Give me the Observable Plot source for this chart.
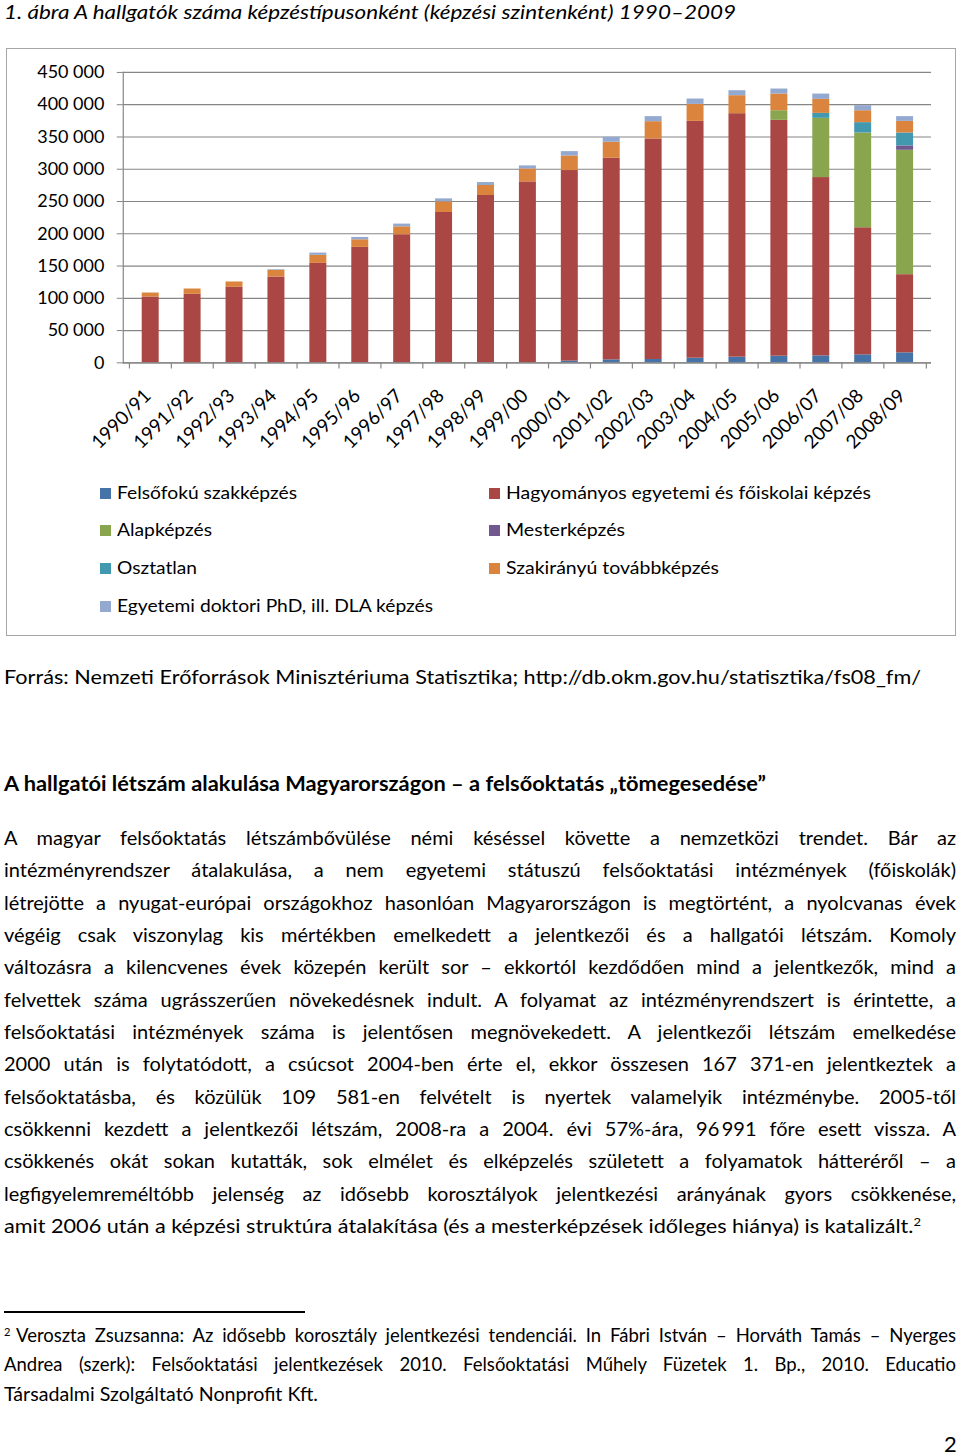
<!DOCTYPE html>
<html lang="hu">
<head>
<meta charset="utf-8">
<script src="https://cdn.jsdelivr.net/npm/d3@7"></script>
<script src="https://cdn.jsdelivr.net/npm/@observablehq/plot@0.6"></script>
<style>
  html, body { margin: 0; padding: 0; background: #fff; }
  #page { position: relative; width: 960px; height: 1456px; overflow: hidden; font-family: Lato, "Open Sans", sans-serif; color: #000; }
  #chartbox { position: absolute; left: 6px; top: 48px; width: 948px; height: 586px; border: 1.5px solid #a6a6a6; }
  #chartbox svg { position: absolute; left: 0; top: 0; }
  .line { position: absolute; white-space: pre; transform-origin: 0 50%; }
  .sw { position: absolute; width: 11px; height: 11px; }
  sup { font-size: 60%; line-height: 0; vertical-align: 0.55em; }
</style>
</head>
<body>
<div id="page">
  <div id="chartbox"></div>
</div>
<script>
// ---- chart data ----
const years = ["1990/91","1991/92","1992/93","1993/94","1994/95","1995/96","1996/97","1997/98","1998/99","1999/00","2000/01","2001/02","2002/03","2003/04","2004/05","2005/06","2006/07","2007/08","2008/09"];
const seriesNames = ["Felsőfokú szakképzés","Hagyományos egyetemi és főiskolai képzés","Alapképzés","Mesterképzés","Osztatlan","Szakirányú továbbképzés","Egyetemi doktori PhD, ill. DLA képzés"];
const seriesColors = ["#4572A7","#AA4643","#89A54E","#71588F","#4198AF","#DB843D","#93A9CF"];
const felsofoku   = [0,0,0,0,0,0,0,0,0,0,2600,4600,5200,7200,8800,10300,10800,12400,15500];
const hagyomanyos = [102000,106200,117000,133000,154100,178900,198500,233000,259300,280400,295400,312400,341700,367000,377300,365500,276300,196900,121100];
const alapkepzes  = [0,0,0,0,0,0,0,0,0,0,0,0,0,0,0,14900,91800,146900,192800];
const mesterkepzes= [0,0,0,0,0,0,0,0,0,0,0,0,0,0,0,0,0,0,6700];
const osztatlan   = [0,0,0,0,0,0,0,0,0,0,0,0,0,0,0,0,7700,16000,20100];
const szakiranyu  = [6200,8200,8300,10300,12400,11800,12300,16500,15500,20100,22600,24800,26800,26300,27900,25800,21700,18500,18000];
const doktori     = [0,0,0,1000,3600,3600,4200,4600,4600,4700,6700,7700,7800,8300,7700,7800,8200,7800,7300];
const seriesValues = [felsofoku, hagyomanyos, alapkepzes, mesterkepzes, osztatlan, szakiranyu, doktori];
const yTicks = [0,50000,100000,150000,200000,250000,300000,350000,400000,450000];

// ---- texts ----
const titleText = "1. ábra A hallgatók száma képzéstípusonként (képzési szintenként) 1990–2009";
const sourceText = "Forrás: Nemzeti Erőforrások Minisztériuma Statisztika; http://db.okm.gov.hu/statisztika/fs08_fm/";
const headingText = "A hallgatói létszám alakulása Magyarországon – a felsőoktatás „tömegesedése”";
const bodyLines = [
  "A magyar felsőoktatás létszámbővülése némi késéssel követte a nemzetközi trendet. Bár az",
  "intézményrendszer átalakulása, a nem egyetemi státuszú felsőoktatási intézmények (főiskolák)",
  "létrejötte a nyugat-európai országokhoz hasonlóan Magyarországon is megtörtént, a nyolcvanas évek",
  "végéig csak viszonylag kis mértékben emelkedett a jelentkezői és a hallgatói létszám. Komoly",
  "változásra a kilencvenes évek közepén került sor – ekkortól kezdődően mind a jelentkezők, mind a",
  "felvettek száma ugrásszerűen növekedésnek indult. A folyamat az intézményrendszert is érintette, a",
  "felsőoktatási intézmények száma is jelentősen megnövekedett. A jelentkezői létszám emelkedése",
  "2000 után is folytatódott, a csúcsot 2004-ben érte el, ekkor összesen 167 371-en jelentkeztek a",
  "felsőoktatásba, és közülük 109 581-en felvételt is nyertek valamelyik intézménybe. 2005-től",
  "csökkenni kezdett a jelentkezői létszám, 2008-ra a 2004. évi 57%-ára, 96\u2009991 főre esett vissza. A",
  "csökkenés okát sokan kutatták, sok elmélet és elképzelés született a folyamatok hátteréről – a",
  "legfigyelemreméltóbb jelenség az idősebb korosztályok jelentkezési arányának gyors csökkenése,",
  "amit 2006 után a képzési struktúra átalakítása (és a mesterképzések időleges hiánya) is katalizált."
];
const footnoteLines = [
  "Veroszta Zsuzsanna: Az idősebb korosztály jelentkezési tendenciái. In Fábri István – Horváth Tamás – Nyerges",
  "Andrea (szerk): Felsőoktatási jelentkezések 2010. Felsőoktatási Műhely Füzetek 1. Bp., 2010. Educatio",
  "Társadalmi Szolgáltató Nonprofit Kft."
];

// ---- chart ----
const rows = years.flatMap((yr, i) => seriesValues.map((vals, j) => ({year: yr, series: seriesNames[j], value: vals[i]})));
const fmt = d => d3.format(",")(d).replace(/,/g, " ");
const W = 950, ML = 116, MR = 24;
const step = (W - ML - MR) / years.length;
const gray = "#868686";

const chart = Plot.plot({
  width: W, height: 420,
  marginLeft: ML, marginRight: MR, marginTop: 23, marginBottom: 106,
  style: {fontFamily: "Lato, sans-serif", fontSize: "18px", color: "#000", background: "transparent", overflow: "visible"},
  x: {domain: years, paddingInner: 0.6, paddingOuter: 0.3, label: null},
  y: {domain: [0, 450000], label: null},
  color: {domain: seriesNames, range: seriesColors},
  marks: [
    Plot.gridY(yTicks, {stroke: gray, strokeOpacity: 1, strokeWidth: 1.2}),
    Plot.axisY(yTicks, {tickSize: 6, tickPadding: 13, stroke: gray, fill: "#000", tickFormat: fmt, label: null}),
    Plot.barY(rows, {x: "year", y: "value", fill: "series"}),
    Plot.ruleY([0], {stroke: gray, strokeWidth: 1.2}),
    Plot.frame({anchor: "left", stroke: gray, strokeWidth: 1.2}),
    Plot.ruleX(years, {x: d => d, y1: 0, y2: -9500, dx: -step / 2, stroke: gray, strokeWidth: 1.2}),
    Plot.ruleX(years.slice(-1), {x: d => d, y1: 0, y2: -9500, dx: step / 2, stroke: gray, strokeWidth: 1.2}),
    Plot.axisX({tickSize: 0, tickRotate: -45, tickPadding: 30, dx: -3, fontSize: 19, fill: "#000", label: null})
  ]
});
document.getElementById("chartbox").appendChild(chart);

// ---- text layout helpers ----
const page = document.getElementById("page");
const VSHIFT = 7;
function placeLine(html, {x, y, width, font, mode, parent = page, lh = 40, shift = VSHIFT}) {
  const div = document.createElement("div");
  div.className = "line";
  div.style.left = x + "px";
  div.style.top = (y - lh / 2 + shift) + "px";
  div.style.height = lh + "px";
  div.style.lineHeight = lh + "px";
  div.style.font = font;
  div.innerHTML = html;
  parent.appendChild(div);
  const w = div.getBoundingClientRect().width;
  if (mode === "justify") {
    const spaces = (div.textContent.match(/[ \u00A0]/g) || []).length;
    if (w <= width) {
      div.style.wordSpacing = ((width - w) / spaces) + "px";
    } else {
      div.style.transform = `scaleX(${width / w})`;
    }
  } else if (mode === "fit") {
    div.style.transform = `scaleX(${width / w})`;
  }
  return div;
}

const bodyFont = "20px Lato, sans-serif";
placeLine(titleText, {x: 4, y: 11, width: 732, font: "italic 20px Lato, sans-serif", mode: "fit", lh: 22, shift: -1});
placeLine(sourceText, {x: 4, y: 677, width: 917, font: bodyFont, mode: "fit"});
placeLine(headingText, {x: 4, y: 784, width: 762, font: "bold 20px Lato, sans-serif", mode: "fit"});

const bodyY0 = 838, bodyDy = 32.33;
bodyLines.forEach((t, i) => {
  const last = i === bodyLines.length - 1;
  if (last) {
    placeLine(t + "<sup>2</sup>", {x: 4, y: bodyY0 + i * bodyDy, width: 917, font: bodyFont, mode: "fit"});
  } else {
    placeLine(t, {x: 4, y: bodyY0 + i * bodyDy, width: 952, font: bodyFont, mode: "justify"});
  }
});

// footnote rule
const rule = document.createElement("div");
rule.style.cssText = "position:absolute;left:4px;top:1311px;width:301px;height:1.5px;background:#000";
page.appendChild(rule);
const fnFont = "18.5px Lato, sans-serif";
placeLine("<sup>2</sup>", {x: 4, y: 1337, width: 8, font: fnFont, mode: "none"});
placeLine(footnoteLines[0], {x: 16, y: 1337, width: 940, font: fnFont, mode: "justify"});
placeLine(footnoteLines[1], {x: 4, y: 1366, width: 952, font: fnFont, mode: "justify"});
placeLine(footnoteLines[2], {x: 4, y: 1396, width: 314, font: fnFont, mode: "fit"});
placeLine("2", {x: 944, y: 1440, width: 12, font: "22px Lato, sans-serif", mode: "none", lh: 20, shift: 0});

// ---- legend ----
const box = document.getElementById("chartbox");
const legendItems = [
  {i: 0, x: 100, y: 494, w: 180},
  {i: 1, x: 489, y: 494, w: 365},
  {i: 2, x: 100, y: 531, w: 95},
  {i: 3, x: 489, y: 531, w: 119},
  {i: 4, x: 100, y: 569, w: 80},
  {i: 5, x: 489, y: 569, w: 213},
  {i: 6, x: 100, y: 607, w: 316}
];
const bx = 7.5, by = 49.5; // box content origin in page coords
legendItems.forEach(it => {
  const sw = document.createElement("div");
  sw.className = "sw";
  sw.style.left = (it.x - bx) + "px";
  sw.style.top = (it.y - 6 - by) + "px";
  sw.style.background = seriesColors[it.i];
  box.appendChild(sw);
  placeLine(seriesNames[it.i], {x: it.x + 17 - bx, y: it.y - by, width: it.w, font: "18px Lato, sans-serif", mode: "fit", parent: box});
});
</script>
</body>
</html>
